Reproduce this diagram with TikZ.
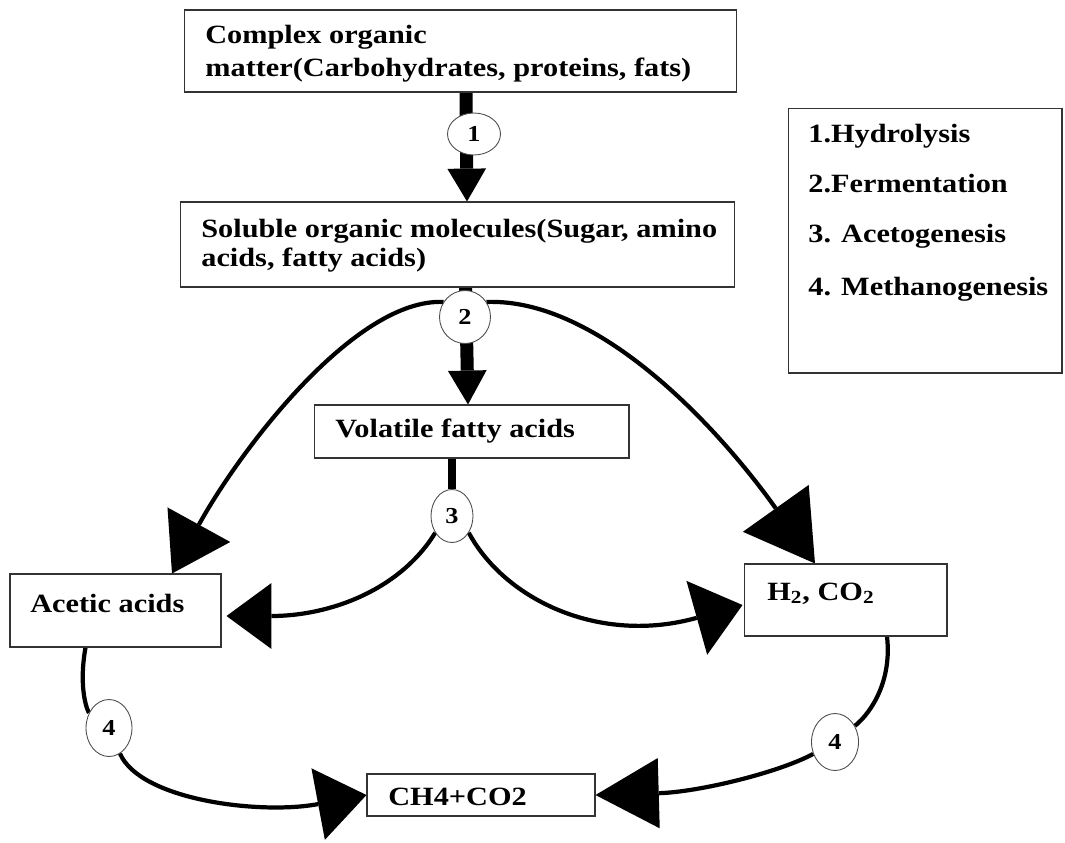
\documentclass[tikz,border=0pt]{standalone}
\usepackage{fontspec}
\setmainfont[FakeStretch=1.15]{Liberation Serif}
\usetikzlibrary{arrows.meta, shapes.geometric, calc, backgrounds}

\begin{document}
\begin{tikzpicture}[x=0.02cm, y=-0.02cm,
	box/.style={rectangle, draw=black!80, line width=0.6pt, inner sep=0pt},
	txt/.style={anchor=base west, inner sep=0pt, font=\fontsize{15}{19}\selectfont\bfseries},
	stage/.style={ellipse, draw=black!70, line width=0.5pt, fill=white, inner sep=0pt, font=\fontsize{13}{13}\selectfont\bfseries},
	flow/.style={line width=2.4pt},
	stem/.style={line width=7.4pt}]
	\useasboundingbox (0,0) rectangle (1065,842);
	\node[box, minimum width=11.06cm, minimum height=1.64cm] (cmplx) at (460.5,51) {};
	\node[box, minimum width=11.1cm, minimum height=1.7cm] (solub) at (457.5,244.5) {};
	\node[box, minimum width=6.3cm, minimum height=1.06cm] (vfa) at (471.5,431.5) {};
	\node[box, minimum width=4.22cm, minimum height=1.46cm] (acetic) at (115.5,610.5) {};
	\node[box, minimum width=4.06cm, minimum height=1.44cm] (htwo) at (845.5,600) {};
	\node[box, minimum width=4.56cm, minimum height=0.84cm] (meth) at (481,795) {};
	\node[box, minimum width=5.48cm, minimum height=5.3cm] (legend) at (925,240.5) {};
	\node[txt] (cmplx-a) at (205,43) {Complex organic};
	\node[txt] (cmplx-b) at (205,76) {matter(Carbohydrates, proteins, fats)};
	\node[txt] (solub-a) at (201,237) {Soluble organic molecules(Sugar, amino};
	\node[txt] (solub-b) at (201,266) {acids, fatty acids)};
	\node[txt] (vfa-t) at (335,437) {Volatile fatty acids};
	\node[txt] (acetic-t) at (30,612) {Acetic acids};
	\node[txt] (htwo-t) at (767,600) {H\textsubscript{2}, CO\textsubscript{2}};
	\node[txt] (meth-t) at (388,805) {CH4+CO2};
	\node[txt] (leg-a) at (808,142) {1.Hydrolysis};
	\node[txt] (leg-b) at (808,192) {2.Fermentation};
	\node[txt] (leg-c) at (808,242) {3. Acetogenesis};
	\node[txt] (leg-d) at (808,295) {4. Methanogenesis};
	\node[stage, minimum width=1.06cm, minimum height=0.84cm] (s1) at (474,134) {1};
	\node[stage, minimum width=1.02cm, minimum height=1.06cm] (s2) at (465,317) {2};
	\node[stage, minimum width=0.84cm, minimum height=1.06cm] (s3) at (452,516) {3};
	\node[stage, minimum width=0.92cm, minimum height=1.14cm] (s4a) at (109,728) {4};
	\node[stage, minimum width=0.94cm, minimum height=1.14cm] (s4b) at (835,742) {4};
	\begin{scope}[on background layer]
		\draw[stem, -{Triangle[length=18.7pt, width=22pt, line width=0pt]}] ($(cmplx.south)+(5.5,0)$) -- ($(solub.north)+(9.5,0)$);
		\draw[stem, -{Triangle[length=19.3pt, width=22pt, line width=0pt]}] ($(solub.south)+(8,0)$) -- ($(vfa.north)+(-3.5,0)$);
		\draw[line width=4pt] (vfa.south -| s3) -- (s3);
		\draw[flow, -{Triangle[length=31.7pt, width=40.8pt, line width=0pt]}] (s2.145) .. controls (355,298) and (240,450) .. ($(acetic.north)+(56.5,0)$);
		\draw[flow, -{Triangle[length=38.5pt, width=46pt, line width=0pt]}] (s2.35) .. controls (600,298) and (720,430) .. ($(htwo.north)+(-30.5,0)$);
		\draw[flow, -{Triangle[length=25.5pt, width=37.4pt, line width=0pt]}] (s3.225) .. controls (400,590) and (330,616) .. ($(acetic.east)+(5,5.5)$);
		\draw[flow, -{Triangle[length=27pt, width=43.7pt, line width=0pt]}] (s3.315) .. controls (505,600) and (600,645) .. ($(htwo.west)+(-1,5)$);
		\draw[flow] ($(acetic.south)+(-30,0)$) .. controls (78,690) and (88,712) .. (s4a);
		\draw[flow, -{Triangle[length=28pt, width=41.4pt, line width=0pt]}] (s4a) .. controls (140,800) and (260,815) .. (meth.west);
		\draw[flow] ($(htwo.south)+(41.5,0)$) .. controls (892,680) and (872,712) .. (s4b);
		\draw[flow, -{Triangle[length=36pt, width=40pt, line width=0pt]}] (s4b) .. controls (780,772) and (700,792) .. (meth.east);
	\end{scope}
\end{tikzpicture}
\end{document}
